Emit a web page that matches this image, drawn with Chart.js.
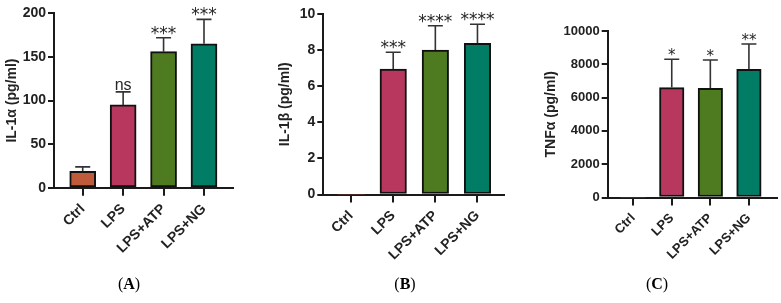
<!DOCTYPE html>
<html><head><meta charset="utf-8">
<script src="https://cdn.jsdelivr.net/npm/chart.js@4.4.1/dist/chart.umd.min.js"></script>
<style>
html,body{margin:0;padding:0;background:#fff;width:781px;height:303px;overflow:hidden;}
#wrap{position:relative;width:781px;height:303px;}
canvas{position:absolute;left:0;top:0;}
.plabel{position:absolute;font-family:"Liberation Serif","Times New Roman",serif;font-size:16px;color:#000;transform:translate(-50%,-50%);top:284px;white-space:nowrap;}
</style></head><body>
<div id="wrap">
<canvas id="cA" width="781" height="303"></canvas>
<canvas id="cB" width="781" height="303"></canvas>
<canvas id="cC" width="781" height="303"></canvas>
<div class="plabel" style="left:129px">(<b>A</b>)</div>
<div class="plabel" style="left:405px">(<b>B</b>)</div>
<div class="plabel" style="left:657px">(<b>C</b>)</div>
</div>
<script>
// ---- data ----
const categories = ['Ctrl', 'LPS', 'LPS+ATP', 'LPS+NG'];
const barColors = ['#BF5A3B', '#B7375F', '#4E7A20', '#007D64'];

const il1aMean = [19, 95, 156, 165];
const il1aSD   = [5, 15, 16, 28];
const il1aSig  = ['', 'ns', '***', '***'];
const il1aTicks = [0, 50, 100, 150, 200];

const il1bMean = [0, 6.95, 8.0, 8.38];
const il1bSD   = [0, 0.93, 1.35, 1.05];
const il1bSig  = ['', '***', '****', '****'];
const il1bTicks = [0, 2, 4, 6, 8, 10];

const tnfMean = [0, 6600, 6560, 7700];
const tnfSD   = [0, 1700, 1700, 1520];
const tnfSig  = ['', '*', '*', '**'];
const tnfTicks = [0, 2000, 4000, 6000, 8000, 10000];

const FAMILY = '"Liberation Sans", Arial, sans-serif';
const AXIS = '#1a1a1a';
const XH = 80;

const errPlugin = {
  id: 'errbars',
  afterDatasetsDraw(chart, args, opts) {
    const ctx = chart.ctx, y = chart.scales.y;
    const meta = chart.getDatasetMeta(0);
    ctx.save();
    meta.data.forEach((bar, i) => {
      const m = opts.means[i], sd = opts.sd[i];
      const x = bar.x;
      const yTop = y.getPixelForValue(m);
      const yE = y.getPixelForValue(m + sd);
      if (sd > 0) {
        ctx.strokeStyle = '#333';
        ctx.lineWidth = 1.6;
        ctx.beginPath();
        ctx.moveTo(x, yTop); ctx.lineTo(x, yE);
        ctx.moveTo(x - opts.cap, yE); ctx.lineTo(x + opts.cap, yE);
        ctx.stroke();
      }
      const s = opts.sig[i];
      if (s) {
        ctx.fillStyle = '#262626';
        ctx.textAlign = 'center';
        ctx.textBaseline = 'alphabetic';
        if (s === 'ns') {
          ctx.font = '16px ' + FAMILY;
          ctx.fillText(s, x, yE - 2);
        } else {
          ctx.font = opts.starSize + 'px "DejaVu Sans"';
          ctx.fillText(s, x, yE + 1);
        }
      }
    });
    ctx.restore();
  }
};

function makePanel(id, o) {
  return new Chart(document.getElementById(id), {
    type: 'bar',
    data: {
      datasets: [{
        data: o.means.map((v, i) => ({ x: i, y: v })),
        backgroundColor: barColors,
        borderColor: '#111',
        borderWidth: o.means.map(v => (v > 0 ? 2 : 0)),
        borderSkipped: false,
        barThickness: o.barW
      }]
    },
    options: {
      responsive: false,
      animation: false,
      devicePixelRatio: 1,
      layout: { padding: { left: o.padL, right: o.padR, top: o.padT, bottom: 303 - o.bottom - XH } },
      plugins: {
        legend: { display: false },
        tooltip: { enabled: false },
        errbars: { means: o.means, sd: o.sd, sig: o.sig, cap: 7.5, starSize: o.starSize }
      },
      scales: {
        x: {
          type: 'linear', min: o.xMin, max: o.xMax, offset: false,
          afterBuildTicks: s => { s.ticks = categories.map((c, i) => ({ value: i })); },
          afterFit: s => { s.height = XH; },
          grid: { display: true, offset: false, drawOnChartArea: false, drawTicks: true, tickLength: 8, color: AXIS, lineWidth: 2 },
          border: { display: true, color: AXIS, width: 2 },
          ticks: {
            callback: v => categories[v],
            minRotation: 45, maxRotation: 45, autoSkip: false, padding: 5,
            color: '#222', font: { family: FAMILY, size: o.xFont, weight: 'bold' }
          }
        },
        y: {
          type: 'linear', min: 0, max: o.ticks[o.ticks.length - 1],
          afterBuildTicks: s => { s.ticks = o.ticks.map(v => ({ value: v })); },
          afterFit: s => { s.width = o.yW; },
          grid: { display: true, drawOnChartArea: false, drawTicks: true, tickLength: 6, color: AXIS, lineWidth: 2 },
          border: { display: true, color: AXIS, width: 2 },
          ticks: { padding: 2, color: '#222', callback: v => String(v),
                   font: { family: FAMILY, size: o.yFont, weight: 'bold' } },
          title: { display: true, text: o.title, color: '#222', padding: { top: 4, bottom: 4 },
                   font: { family: FAMILY, size: 14, weight: 'bold' } }
        }
      }
    },
    plugins: [errPlugin]
  });
}

makePanel('cA', { means: il1aMean, sd: il1aSD, sig: il1aSig, ticks: il1aTicks, title: 'IL-1\u03B1 (pg/ml)',
  padL: 0, yW: 54, padR: 548.3, padT: 13.3, bottom: 187.8, xMin: -0.71, xMax: 3.71, barW: 26,
  xFont: 14, yFont: 14, starSize: 17 });
makePanel('cB', { means: il1bMean, sd: il1bSD, sig: il1bSig, ticks: il1bTicks, title: 'IL-1\u03B2 (pg/ml)',
  padL: 272.6, yW: 50.7, padR: 277, padT: 14, bottom: 194.5, xMin: -0.66, xMax: 3.63, barW: 26.5,
  xFont: 14, yFont: 14, starSize: 17 });
makePanel('cC', { means: tnfMean, sd: tnfSD, sig: tnfSig, ticks: tnfTicks, title: 'TNF\u03B1 (pg/ml)',
  padL: 539, yW: 68.7, padR: 4.3, padT: 31, bottom: 197.5, xMin: -0.66, xMax: 3.72, barW: 24.5,
  xFont: 13, yFont: 13, starSize: 15 });
</script>
</body></html>
